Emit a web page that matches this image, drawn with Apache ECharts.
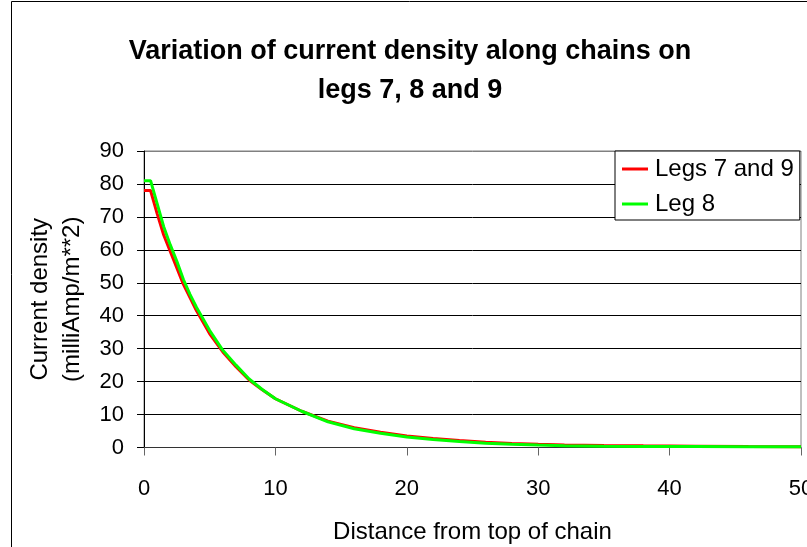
<!DOCTYPE html>
<html>
<head>
<meta charset="utf-8">
<script src="https://cdn.jsdelivr.net/npm/echarts@6/dist/echarts.min.js"></script>
<style>
html,body{margin:0;padding:0;background:#fff;overflow:hidden;}
#chart{width:807px;height:547px;}
</style>
</head>
<body>
<div id="chart"></div>
<script>
// Data
const titleText = 'Variation of current density along chains on\nlegs 7, 8 and 9';
const xAxisName = 'Distance from top of chain';
const yAxisName = 'Current density\n(milliAmp/m**2)';
const seriesNames = ['Legs 7 and 9', 'Leg 8'];
const distance = [0, 0.5, 1, 1.5, 2, 2.5, 3, 3.5, 4, 4.5, 5, 6, 7, 8, 9, 10, 12, 14, 16, 18, 20, 22, 24, 26, 28, 30, 32, 35, 38, 42, 46, 50];
const legs7and9 = [78, 78, 71, 64.5, 59.5, 54.5, 49.5, 45.5, 41.5, 38, 34.5, 29, 24.5, 20.5, 17.5, 14.8, 11, 8, 6, 4.6, 3.5, 2.7, 2.1, 1.6, 1.25, 0.95, 0.75, 0.6, 0.5, 0.4, 0.3, 0.25];
const leg8 = [81, 81, 74, 67, 61.5, 56.5, 51, 46.5, 42.5, 39, 35.5, 29.5, 25, 20.8, 17.6, 14.8, 11, 7.8, 5.7, 4.3, 3.2, 2.4, 1.8, 1.3, 1, 0.75, 0.55, 0.4, 0.33, 0.28, 0.24, 0.22];
const xTicks = {min: 0, max: 50, interval: 10};
const yTicks = {min: 0, max: 90, interval: 10};
const colors = ['#ff0000', '#00ff00'];

const chart = echarts.init(document.getElementById('chart'), null, {renderer: 'canvas'});
const font = 'Liberation Sans, Arial, Helvetica, sans-serif';
const ySplitColors = [];
for (let v = yTicks.min; v <= yTicks.max; v += yTicks.interval) {
  ySplitColors.push(v === yTicks.max ? '#808080' : '#000000');
}

chart.setOption({
  backgroundColor: '#ffffff',
  animation: false,
  textStyle: {fontFamily: font},
  graphic: [{
    type: 'rect',
    shape: {x: 11.5, y: 1.5, width: 1000, height: 800},
    style: {fill: 'none', stroke: '#000', lineWidth: 1},
    silent: true,
    z: 100
  }],
  title: {
    text: titleText,
    left: 405,
    top: 27,
    textAlign: 'center',
    textStyle: {fontFamily: font, fontSize: 27, fontWeight: 'bold', color: '#000', lineHeight: 39}
  },
  legend: {
    orient: 'vertical',
    left: 615,
    top: 151,
    padding: [6, 6, 4, 7],
    itemGap: 11,
    itemWidth: 26,
    itemHeight: 3,
    icon: 'rect',
    backgroundColor: '#fff',
    borderColor: '#000',
    borderWidth: 1,
    textStyle: {fontFamily: font, fontSize: 24, color: '#000', padding: [0, 0, 0, 2]},
    data: seriesNames
  },
  grid: {
    left: 144,
    right: 6,
    top: 151,
    bottom: 99.5,
    show: true,
    borderColor: '#808080',
    borderWidth: 1,
    containLabel: false,
    outerBoundsMode: 'none'
  },
  xAxis: {
    type: 'value',
    min: xTicks.min,
    max: xTicks.max,
    interval: xTicks.interval,
    name: xAxisName,
    nameLocation: 'middle',
    nameGap: 73,
    nameTextStyle: {fontFamily: font, fontSize: 24, color: '#000'},
    axisLine: {show: true, onZero: false, lineStyle: {color: '#333', width: 1}},
    axisTick: {show: true, length: 8, lineStyle: {color: '#666'}},
    axisLabel: {fontFamily: font, fontSize: 22, color: '#000', margin: 30, hideOverlap: false},
    splitLine: {show: false}
  },
  yAxis: {
    type: 'value',
    min: yTicks.min,
    max: yTicks.max,
    interval: yTicks.interval,
    name: yAxisName,
    nameLocation: 'middle',
    nameRotate: 90,
    nameGap: 56,
    nameTextStyle: {fontFamily: font, fontSize: 24, color: '#000', lineHeight: 32},
    axisLine: {show: true, lineStyle: {color: '#000', width: 1}},
    axisTick: {show: true, length: 7, lineStyle: {color: '#000'}},
    axisLabel: {fontFamily: font, fontSize: 22, color: '#000', margin: 20},
    splitLine: {show: true, lineStyle: {color: ySplitColors, width: 1}}
  },
  series: [
    {
      name: seriesNames[0],
      type: 'line',
      data: distance.map((d, i) => [d, legs7and9[i]]),
      showSymbol: false,
      symbol: 'none',
      lineStyle: {color: colors[0], width: 3},
      itemStyle: {color: colors[0]},
      z: 2
    },
    {
      name: seriesNames[1],
      type: 'line',
      data: distance.map((d, i) => [d, leg8[i]]),
      showSymbol: false,
      symbol: 'none',
      lineStyle: {color: colors[1], width: 3},
      itemStyle: {color: colors[1]},
      z: 3
    }
  ]
});
</script>
</body>
</html>
